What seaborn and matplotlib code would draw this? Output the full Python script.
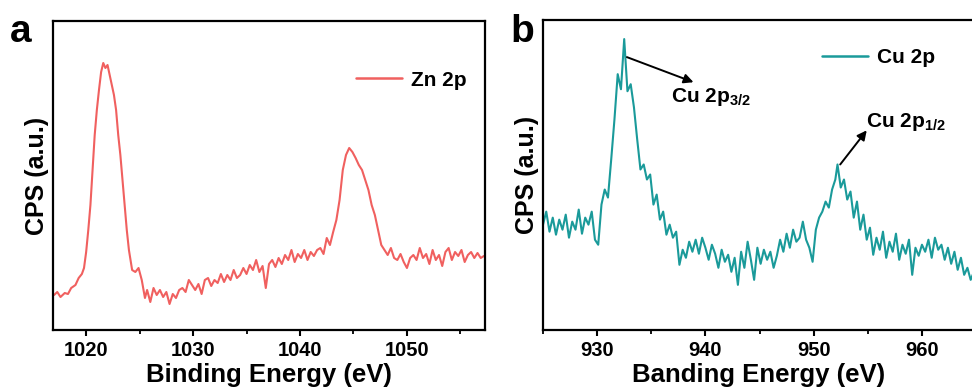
import matplotlib
matplotlib.use("Agg")
import matplotlib.pyplot as plt
from matplotlib.ticker import MultipleLocator
import pandas as pd
import seaborn as sns

# ---- Data (intensities in arbitrary units) ----
zn_energy = [1017.0, 1017.3, 1017.6, 1018.0, 1018.3, 1018.6, 1019.0, 1019.3, 1019.6, 1019.8,
             1020.0, 1020.2, 1020.4, 1020.6, 1020.8, 1021.0, 1021.2, 1021.4, 1021.6, 1021.8,
             1022.0, 1022.2, 1022.4, 1022.6, 1022.8, 1023.0, 1023.2, 1023.4, 1023.6, 1023.8,
             1024.0, 1024.3, 1024.6, 1024.9, 1025.2, 1025.5, 1025.7, 1026.0, 1026.3, 1026.6,
             1026.9, 1027.2, 1027.5, 1027.8, 1028.1, 1028.4, 1028.7, 1029.0, 1029.3, 1029.6,
             1029.9, 1030.2, 1030.5, 1030.8, 1031.1, 1031.4, 1031.7, 1032.0, 1032.3, 1032.6,
             1032.9, 1033.2, 1033.5, 1033.8, 1034.1, 1034.4, 1034.7, 1035.0, 1035.3, 1035.6,
             1035.9, 1036.2, 1036.5, 1036.8, 1037.1, 1037.4, 1037.7, 1038.0, 1038.3, 1038.6,
             1038.9, 1039.2, 1039.5, 1039.8, 1040.1, 1040.4, 1040.7, 1041.0, 1041.3, 1041.6,
             1041.9, 1042.2, 1042.5, 1042.8, 1043.1, 1043.4, 1043.7, 1044.0, 1044.3, 1044.6,
             1044.9, 1045.2, 1045.5, 1045.8, 1046.1, 1046.4, 1046.7, 1047.0, 1047.3, 1047.6,
             1047.9, 1048.2, 1048.5, 1048.8, 1049.1, 1049.4, 1049.7, 1050.0, 1050.3, 1050.6,
             1050.9, 1051.2, 1051.5, 1051.8, 1052.1, 1052.4, 1052.7, 1053.0, 1053.3, 1053.6,
             1053.9, 1054.2, 1054.5, 1054.8, 1055.1, 1055.4, 1055.7, 1056.0, 1056.3, 1056.6,
             1056.9, 1057.2]
zn_cps = [35, 38, 33, 37, 36, 42, 45, 52, 56, 62,
          78, 100, 125, 160, 195, 220, 240, 258, 267, 262,
          265, 255, 245, 235, 220, 195, 175, 150, 125, 100,
          80, 60, 58, 62, 50, 32, 40, 28, 42, 35,
          40, 33, 38, 26, 36, 32, 40, 42, 38, 50,
          45, 40, 46, 36, 50, 52, 44, 50, 47, 56,
          48, 55, 50, 60, 52, 55, 62, 56, 65, 60,
          70, 58, 64, 42, 66, 70, 63, 72, 66, 75,
          70, 80, 68, 76, 72, 80, 70, 78, 74, 80,
          82, 76, 92, 85, 98, 110, 130, 160, 175, 182,
          178, 172, 165, 160, 150, 140, 125, 115, 100, 85,
          80, 75, 82, 72, 70, 76, 68, 62, 72, 75,
          70, 82, 72, 76, 66, 80, 70, 75, 64, 78,
          82, 70, 78, 74, 80, 68, 75, 78, 72, 77,
          72, 74]

cu_energy = [925.0, 925.3, 925.6, 925.9, 926.2, 926.5, 926.8, 927.1, 927.4, 927.7,
             928.0, 928.3, 928.6, 928.9, 929.2, 929.5, 929.8, 930.1, 930.4, 930.7,
             931.0, 931.3, 931.6, 931.9, 932.2, 932.5, 932.8, 933.1, 933.4, 933.7,
             934.0, 934.3, 934.6, 934.9, 935.2, 935.5, 935.8, 936.1, 936.4, 936.7,
             937.0, 937.3, 937.6, 937.9, 938.2, 938.5, 938.8, 939.1, 939.4, 939.7,
             940.0, 940.3, 940.6, 940.9, 941.2, 941.5, 941.8, 942.1, 942.4, 942.7,
             943.0, 943.3, 943.6, 943.9, 944.2, 944.5, 944.8, 945.1, 945.4, 945.7,
             946.0, 946.3, 946.6, 946.9, 947.2, 947.5, 947.8, 948.1, 948.4, 948.7,
             949.0, 949.3, 949.6, 949.9, 950.2, 950.5, 950.8, 951.1, 951.4, 951.7,
             952.0, 952.2, 952.5, 952.8, 953.1, 953.4, 953.7, 954.0, 954.3, 954.6,
             954.9, 955.2, 955.5, 955.8, 956.1, 956.4, 956.7, 957.0, 957.3, 957.6,
             957.9, 958.2, 958.5, 958.8, 959.1, 959.4, 959.7, 960.0, 960.3, 960.6,
             960.9, 961.2, 961.5, 961.8, 962.1, 962.4, 962.7, 963.0, 963.3, 963.6,
             963.9, 964.2, 964.5, 964.8, 965.1]
cu_cps = [105, 118, 98, 112, 95, 110, 100, 115, 92, 108,
          100, 120, 96, 112, 105, 118, 90, 85, 125, 140,
          132, 170, 210, 255, 240, 290, 238, 245, 222, 190,
          160, 165, 150, 155, 125, 135, 110, 118, 95, 105,
          92, 98, 65, 80, 72, 88, 78, 90, 76, 92,
          82, 70, 85, 76, 62, 80, 68, 75, 58, 72,
          45, 78, 62, 88, 70, 50, 82, 66, 80, 70,
          78, 62, 74, 90, 78, 96, 82, 100, 88, 92,
          108, 90, 82, 68, 100, 112, 118, 128, 122, 140,
          150, 165, 142, 150, 130, 138, 112, 128, 100, 115,
          90, 102, 75, 92, 80, 98, 72, 88, 78, 96,
          70, 85, 76, 90, 55, 82, 74, 85, 78, 90,
          72, 92, 80, 85, 70, 82, 66, 78, 60, 72,
          55, 62, 50, 58, 52]

zn_label = "Zn 2p"
cu_label = "Cu 2p"
zn_ticks = [1020, 1030, 1040, 1050]
cu_ticks = [930, 940, 950, 960]

zn_color = "#F0605F"
cu_color = "#1A9A9A"

# ---- Style ----
sns.set_style("ticks")
plt.rcParams["font.family"] = ["Liberation Sans", "DejaVu Sans"]
plt.rcParams["font.weight"] = "bold"
plt.rcParams["text.color"] = "black"
plt.rcParams["axes.labelcolor"] = "black"
plt.rcParams["xtick.color"] = "black"
plt.rcParams["ytick.color"] = "black"
plt.rcParams["mathtext.fontset"] = "custom"
plt.rcParams["mathtext.rm"] = "Liberation Sans:bold"
plt.rcParams["mathtext.it"] = "Liberation Sans:bold"
plt.rcParams["mathtext.bf"] = "Liberation Sans:bold"

fig = plt.figure(figsize=(9.72, 3.92), dpi=100)
ax_a = fig.add_axes([53 / 972, 62 / 392, 432 / 972, 309 / 392])
ax_b = fig.add_axes([543 / 972, 62 / 392, 432 / 972, 310 / 392])

df_zn = pd.DataFrame({"Energy": zn_energy, "CPS": zn_cps, "Sample": zn_label})
df_cu = pd.DataFrame({"Energy": cu_energy, "CPS": cu_cps, "Sample": cu_label})

sns.lineplot(data=df_zn, x="Energy", y="CPS", hue="Sample", palette=[zn_color],
             ax=ax_a, linewidth=1.5, sort=False)
sns.lineplot(data=df_cu, x="Energy", y="CPS", hue="Sample", palette=[cu_color],
             ax=ax_b, linewidth=1.5, sort=False)

for ax, ticks, xlim, xlabel, leg_anchor in [
    (ax_a, zn_ticks, (1016.9, 1057.3), "Binding Energy (eV)", (1.0, 0.90)),
    (ax_b, cu_ticks, (925.0, 964.9), "Banding Energy (eV)", (0.95, 0.97)),
]:
    ax.set_xlim(*xlim)
    ax.set_ylim(0, 309)
    ax.set_xticks(ticks)
    ax.xaxis.set_minor_locator(MultipleLocator(5))
    ax.set_yticks([])
    ax.tick_params(axis="x", which="major", length=4, width=1.5, direction="out",
                   labelsize=14.5, pad=4, colors="black")
    ax.tick_params(axis="x", which="minor", length=3, width=1.3, direction="out",
                   colors="black")
    for lab in ax.get_xticklabels():
        lab.set_fontweight("bold")
    for s in ax.spines.values():
        s.set_visible(True)
        s.set_linewidth(1.6)
        s.set_color("black")
    ax.set_xlabel(xlabel, fontsize=18.5, fontweight="bold", labelpad=2, color="black")
    ax.set_ylabel("CPS (a.u.)", fontsize=18, fontweight="bold", labelpad=3, color="black")
    leg = ax.legend(loc="upper right", bbox_to_anchor=leg_anchor, frameon=False,
                    handlelength=2.2, handletextpad=0.4,
                    prop={"weight": "bold", "size": 15})
    for line in leg.get_lines():
        line.set_linewidth(1.8)
    for t in leg.get_texts():
        t.set_color("black")

# panel letters
fig.text(10 / 972, 1 - 42 / 392, "a", fontsize=28, fontweight="bold", va="baseline",
         color="black")
fig.text(510 / 972, 1 - 42 / 392, "b", fontsize=28, fontweight="bold", va="baseline",
         color="black")

# annotations in b
ax_b.annotate("", xy=(938.9, 247), xytext=(932.75, 272),
              arrowprops=dict(arrowstyle="-|>", color="black", lw=1.4,
                              mutation_scale=14, shrinkA=0, shrinkB=0))
ax_b.text(936.8, 232, r"Cu 2p$_{3/2}$", fontsize=15, fontweight="bold",
          ha="left", va="center", color="black")
ax_b.annotate("", xy=(954.9, 199), xytext=(952.45, 165),
              arrowprops=dict(arrowstyle="-|>", color="black", lw=1.4,
                              mutation_scale=14, shrinkA=0, shrinkB=0))
ax_b.text(954.8, 207, r"Cu 2p$_{1/2}$", fontsize=15, fontweight="bold",
          ha="left", va="center", color="black")

fig.savefig("out.png", dpi=100)
